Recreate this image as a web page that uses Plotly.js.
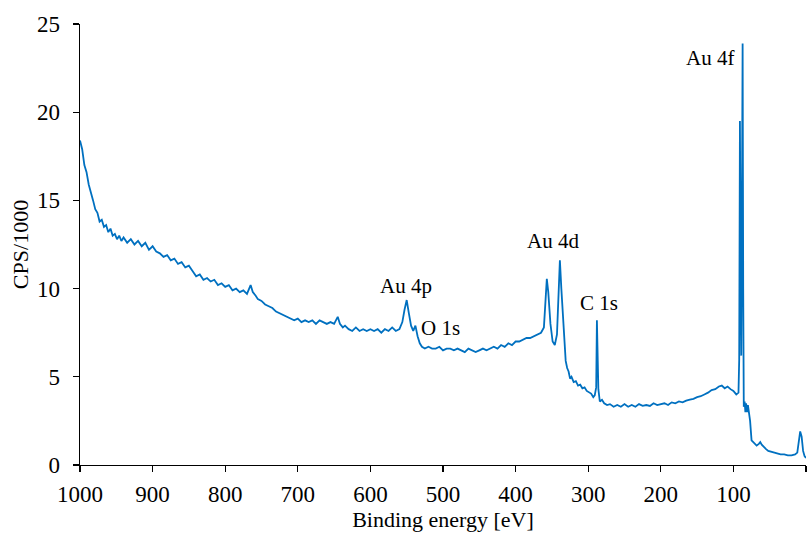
<!DOCTYPE html>
<html>
<head>
<meta charset="utf-8">
<script src="https://cdn.plot.ly/plotly-3.0.1.min.js"></script>
<style>html,body{margin:0;padding:0;background:#fff;}#chart{width:810px;height:533px;}</style>
</head>
<body>
<div id="chart"></div>
<script>
// Binding energy (eV)
const energy = [
1000,997,994,991,988,985,982,979,976,973,970,967,964,961,958,955,952,949,946,943,940,
935,930,925,920,915,910,905,900,895,890,885,880,875,870,865,860,855,850,845,840,835,830,825,820,815,810,805,800,
795,790,785,780,775,770,765,762,758,755,750,745,740,735,730,725,720,715,710,705,700,
695,690,685,680,675,670,665,660,655,650,645,642,638,635,630,625,620,615,610,605,600,
595,590,585,580,575,570,565,560,556,553,550,547,544,541,538,535,532,529,525,520,515,510,505,500,
495,490,485,480,475,470,465,460,455,450,445,440,435,430,425,420,415,410,405,400,
395,390,385,380,375,370,365,361,359,357,355,352,349,346,343,341,339,337,335,333,331,329,327,325,323,320,317,314,311,308,305,302,299,296,
293,291,289,288,286,284,281,278,274,270,265,260,255,250,245,240,235,230,225,220,215,210,205,200,
195,190,185,180,175,170,165,160,155,150,145,140,135,130,125,120,116,112,108,104,100,96,93,
92,91,90,89.2,88.2,87.3,86.5,85.7,84.5,83.5,82.5,81,80,78.5,77,75,
71,68,65,63,61,58,55,52,48,44,40,35,30,25,20,15,12,10,8,6,4,2,0
];
// Counts per second / 1000
const cps = [
18.4,17.9,17.0,16.6,15.9,15.5,15.0,14.5,14.3,13.8,13.9,13.5,13.6,13.2,13.4,13.0,13.1,12.8,13.0,12.7,12.9,
12.6,12.8,12.5,12.7,12.4,12.6,12.2,12.4,12.1,12.0,11.8,11.9,11.6,11.7,11.4,11.5,11.2,11.3,11.0,10.7,10.8,10.5,10.6,10.4,10.5,10.2,10.3,10.1,
10.2,9.9,10.0,9.8,9.9,9.7,10.2,9.8,9.6,9.4,9.3,9.1,9.0,8.9,8.7,8.6,8.5,8.4,8.3,8.2,8.3,
8.1,8.2,8.1,8.2,8.0,8.2,8.1,8.0,8.1,8.0,8.4,8.0,7.8,7.9,7.7,7.6,7.8,7.6,7.7,7.6,7.7,
7.6,7.7,7.5,7.7,7.6,7.8,7.6,7.7,8.1,8.8,9.35,8.6,7.9,7.6,7.9,7.3,6.9,6.7,6.6,6.7,6.6,6.6,6.7,6.5,
6.6,6.6,6.5,6.6,6.5,6.4,6.6,6.5,6.4,6.5,6.6,6.5,6.6,6.7,6.6,6.8,6.7,6.9,6.8,7.0,
7.0,7.1,7.2,7.2,7.3,7.4,7.5,7.8,9.0,10.55,9.8,8.0,7.0,6.8,7.4,9.5,11.6,10.0,8.5,6.9,5.9,5.5,5.3,4.9,5.0,4.7,4.75,4.5,4.55,4.35,4.4,4.2,4.1,4.05,
3.85,3.95,4.4,8.2,4.3,3.6,3.7,3.5,3.4,3.45,3.3,3.4,3.3,3.45,3.3,3.4,3.3,3.45,3.35,3.4,3.35,3.5,3.4,3.45,
3.5,3.4,3.55,3.5,3.6,3.55,3.65,3.7,3.75,3.85,3.9,4.0,4.1,4.25,4.3,4.45,4.5,4.35,4.45,4.3,4.2,4.0,4.1,
6.0,19.5,11.0,6.2,15.0,23.9,10.0,3.3,3.6,3.0,3.5,3.0,3.4,2.9,2.5,1.4,
1.2,1.1,1.2,1.3,1.15,1.0,0.9,0.8,0.75,0.7,0.65,0.6,0.6,0.55,0.55,0.6,0.7,1.2,1.9,1.6,0.8,0.5,0.4
];
// Peak labels
const peakLabels = ["Au 4f","Au 4d","C 1s","Au 4p","O 1s"];
const labelX = [132, 349, 285, 551, 504];
const labelY = [23.07, 12.7, 9.18, 10.15, 7.77];

const font = "Liberation Serif, Times New Roman, serif";
const trace = {
  x: energy, y: cps, type: "scatter", mode: "lines",
  line: {color: "#0070C0", width: 1.8}, hoverinfo: "skip", cliponaxis: true
};
const annotations = peakLabels.map((t, i) => ({
  x: labelX[i], y: labelY[i], xref: "x", yref: "y", text: t, showarrow: false,
  font: {family: font, size: 21, color: "#000"}, xanchor: "center", yanchor: "middle"
}));
const layout = {
  width: 810, height: 533,
  margin: {l: 80, r: 4, t: 24, b: 68},
  paper_bgcolor: "#fff", plot_bgcolor: "#fff",
  showlegend: false,
  font: {family: font, size: 23, color: "#000"},
  xaxis: {
    range: [1000, 0], tickvals: [1000,900,800,700,600,500,400,300,200,100,0],
    showgrid: false, zeroline: false, showline: true, linecolor: "#000", linewidth: 1.3,
    ticks: "outside", ticklen: 6, tickcolor: "#000", tickwidth: 1.3,
    ticklabelstandoff: 2,
    tickfont: {family: font, size: 23, color: "#000"},
    title: {text: "Binding energy [eV]", font: {family: font, size: 22, color: "#000"}, standoff: 4},
    automargin: false
  },
  yaxis: {
    range: [0, 25], tickvals: [0,5,10,15,20,25],
    showgrid: false, zeroline: false, showline: true, linecolor: "#000", linewidth: 1.3,
    ticks: "outside", ticklen: 6, tickcolor: "#000", tickwidth: 1.3,
    ticklabelstandoff: 8,
    tickfont: {family: font, size: 23, color: "#000"},
    title: {text: "CPS/1000", font: {family: font, size: 22, color: "#000"}, standoff: 2},
    automargin: false
  },
  annotations: annotations
};
Plotly.newPlot("chart", [trace], layout, {displayModeBar: false, staticPlot: true});
</script>
</body>
</html>
